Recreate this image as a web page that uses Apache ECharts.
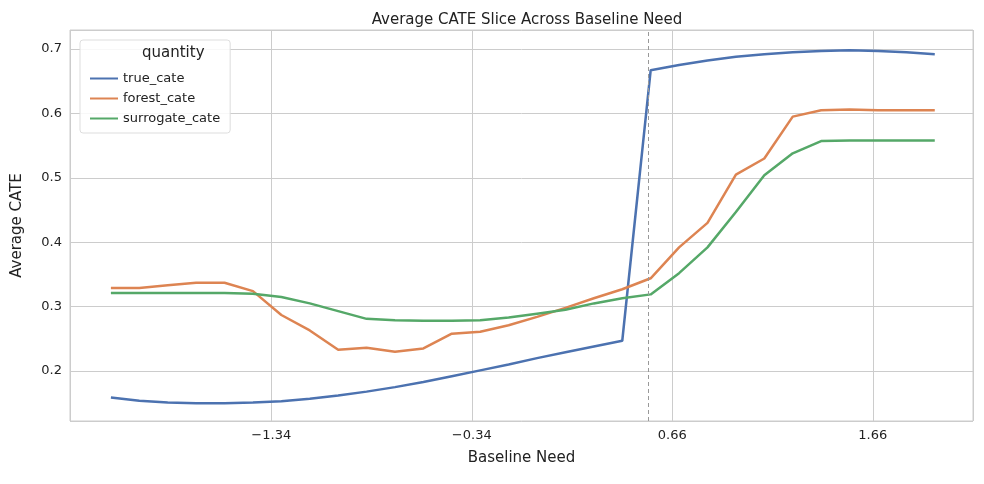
<!DOCTYPE html>
<html>
<head>
<meta charset="utf-8">
<script src="https://cdn.jsdelivr.net/npm/echarts@6/dist/echarts.min.js"></script>
<style>html,body{margin:0;padding:0;background:#fff}#main{width:984px;height:484px}</style>
</head>
<body>
<div id="main"></div>
<script>
var xStart = -2.14, xStep = 0.1417;
var trueCate = [0.159,0.154,0.151,0.150,0.150,0.151,0.153,0.157,0.162,0.168,0.175,0.183,0.192,0.201,0.210,0.220,0.229,0.238,0.247,0.667,0.675,0.682,0.688,0.692,0.695,0.697,0.698,0.697,0.695,0.692];
var forestCate = [0.329,0.329,0.333,0.337,0.337,0.324,0.287,0.263,0.233,0.236,0.230,0.235,0.258,0.261,0.271,0.284,0.298,0.313,0.327,0.344,0.392,0.430,0.505,0.530,0.595,0.605,0.606,0.605,0.605,0.605];
var surrogateCate = [0.321,0.321,0.321,0.321,0.321,0.320,0.315,0.305,0.293,0.281,0.279,0.278,0.278,0.279,0.283,0.289,0.295,0.305,0.313,0.319,0.352,0.392,0.447,0.504,0.538,0.557,0.558,0.558,0.558,0.558];
var cutoff = 0.544;

var xs = trueCate.map(function(v, i) { return +(xStart + i * xStep).toFixed(4); });
function pairs(arr) { return arr.map(function(v, i) { return [xs[i], v]; }); }

var myChart = echarts.init(document.getElementById('main'));
var font = 'DejaVu Sans';
var option = {
	animation: false,
	textStyle: { fontFamily: font },
	title: {
		text: 'Average CATE Slice Across Baseline Need',
		left: 522, top: 8, textAlign: 'center',
		textStyle: { fontSize: 15, fontWeight: 'normal', color: '#222', fontFamily: font }
	},
	color: ['#4c72b0', '#dd8452', '#55a868'],
	grid: { left: 70, right: 11, top: 30, bottom: 63, show: true, borderColor: '#ccc', borderWidth: 1 },
	legend: {
		orient: 'vertical', left: 80, top: 40,
		padding: [32, 10, 8, 10], itemGap: 7,
		backgroundColor: 'rgba(255,255,255,0.85)', borderColor: '#ddd', borderWidth: 1, borderRadius: 3,
		itemWidth: 28, itemHeight: 2, icon: 'rect',
		textStyle: { fontSize: 13, color: '#222', fontFamily: font },
		data: ['true_cate', 'forest_cate', 'surrogate_cate']
	},
	graphic: [{ type: 'text', left: 142, top: 46, z: 100,
		style: { text: 'quantity', fontSize: 15, fill: '#222', fontFamily: font } }],
	xAxis: {
		type: 'value', min: -2.344, max: 2.16, interval: 1,
		name: 'Baseline Need', nameLocation: 'middle', nameGap: 30,
		nameTextStyle: { fontSize: 15, color: '#222' },
		axisLine: { show: false }, axisTick: { show: false },
		axisLabel: { fontSize: 13, color: '#222', showMinLabel: false, showMaxLabel: false,
			formatter: function(v) { return v < 0 ? '\u2212' + (-v) : '' + v; } },
		splitLine: { show: true, lineStyle: { color: '#ccc', width: 1 } }
	},
	yAxis: {
		type: 'value', min: 0.1224, max: 0.7295,
		name: 'Average CATE', nameLocation: 'middle', nameGap: 45,
		nameTextStyle: { fontSize: 15, color: '#222' },
		axisLine: { show: false }, axisTick: { show: false },
		axisLabel: { fontSize: 13, color: '#222', showMinLabel: false, showMaxLabel: false,
			formatter: function(v) { return v.toFixed(1); } },
		splitLine: { show: true, lineStyle: { color: '#ccc', width: 1 } }
	},
	series: [
		{ name: 'true_cate', type: 'line', data: pairs(trueCate), showSymbol: false, lineStyle: { width: 2.5 },
		  markLine: { silent: true, symbol: 'none', label: { show: false },
			lineStyle: { color: '#999', type: [4, 3], width: 1 }, data: [{ xAxis: cutoff }] } },
		{ name: 'forest_cate', type: 'line', data: pairs(forestCate), showSymbol: false, lineStyle: { width: 2.5 } },
		{ name: 'surrogate_cate', type: 'line', data: pairs(surrogateCate), showSymbol: false, lineStyle: { width: 2.5 } }
	]
};
myChart.setOption(option);
</script>
</body>
</html>
